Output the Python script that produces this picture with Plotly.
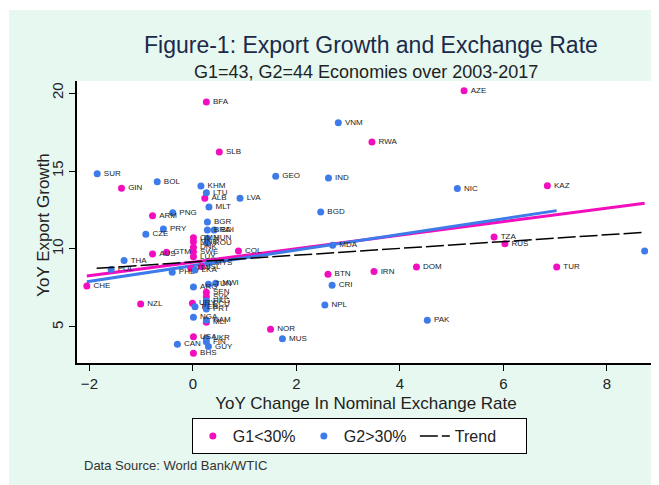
import plotly.graph_objects as go

# ---------------- data ----------------
g1_codes = ["BFA", "SLB", "GIN", "ALB", "ARM", "AZE", "RWA", "KAZ", "TZA", "RUS",
            "TUR", "DOM", "IRN", "BTN", "NOR", "CHE", "NZL", "AUS", "GTM", "COL",
            "OMN", "MNE", "DNK", "SWE", "LUX", "ISL", "ITA", "SEN", "SVK", "URY",
            "MLI", "USA", "BHS"]
g1_x = [0.26, 0.51, -1.38, 0.23, -0.78, 5.24, 3.46, 6.85, 5.82, 6.03,
        7.03, 4.32, 3.50, 2.61, 1.50, -2.05, -1.01, -0.78, -0.51, 0.88,
        0.01, 0.01, 0.01, 0.01, 0.01, 0.17, -0.04, 0.26, 0.26, -0.01,
        0.26, 0.01, 0.01]
g1_y = [19.42, 16.22, 13.89, 13.25, 12.13, 20.15, 16.86, 14.06, 10.77, 10.34,
        8.85, 8.85, 8.55, 8.38, 4.85, 7.63, 6.47, 9.68, 9.79, 9.87,
        10.72, 10.47, 10.11, 9.83, 9.51, 8.87, 8.76, 7.22, 6.94, 6.52,
        5.30, 4.38, 3.31]

g2_codes = ["SUR", "BOL", "KHM", "LTU", "LVA", "MLT", "PNG", "BGR", "BDI", "BRA",
            "PRY", "CZE", "THA", "POL", "PHL", "LKA", "MYS", "HUN", "ROU", "ARG",
            "TUN", "MWI", "HKG", "PER", "ECU", "PRT", "NGA", "NAM", "UKR", "FIN",
            "GUY", "CAN", "GEO", "VNM", "IND", "BGD", "NIC", "MDA", "CRI", "NPL",
            "MUS", "PAK", "MOZ"]
g2_x = [-1.85, -0.69, 0.155, 0.26, 0.91, 0.31, -0.39, 0.28, 0.41, 0.28,
        -0.57, -0.91, -1.33, -1.58, -0.40, 0.04, 0.30, 0.28, 0.28, 0.01,
        0.30, 0.44, 0.26, 0.04, 0.26, 0.26, 0.01, 0.26, 0.26, 0.26,
        0.30, -0.30, 1.60, 2.81, 2.62, 2.47, 5.11, 2.70, 2.69, 2.55,
        1.73, 4.53, 8.73]
g2_y = [14.83, 14.31, 14.04, 13.61, 13.25, 12.69, 12.33, 11.73, 11.22, 11.22,
        11.28, 10.94, 9.26, 8.69, 8.51, 8.65, 9.08, 10.69, 10.38, 7.56,
        7.74, 7.80, 6.67, 6.30, 6.46, 6.15, 5.62, 5.45, 4.28, 4.06,
        3.74, 3.89, 14.66, 18.10, 14.55, 12.37, 13.87, 10.24, 7.67, 6.41,
        4.25, 5.43, 9.87]

# fitted lines (end points)
fit_g1_x = [-2.05, 8.73]
fit_g1_y = [8.27, 12.93]
fit_g2_x = [-2.05, 7.03]
fit_g2_y = [7.90, 12.46]
trend_x = [-1.86, 8.73]
trend_y = [8.76, 11.07]

x_ticks = [-2, 0, 2, 4, 6, 8]
y_ticks = [5, 10, 15, 20]

title_text = "Figure-1: Export Growth and Exchange Rate"
subtitle_text = "G1=43, G2=44 Economies over 2003-2017"
source_text = "Data Source: World Bank/WTIC"
x_title = "YoY Change In Nominal Exchange Rate"
y_title = "YoY Export Growth"

# ---------------- styling ----------------
PINK = "#F20DBE"
BLUE = "#3E7BEA"
MINT = "#E6F8F0"
FONT = "Liberation Sans, Arial, sans-serif"

fig = go.Figure()

# fit lines (no legend)
fig.add_trace(go.Scatter(x=fit_g1_x, y=fit_g1_y, mode="lines",
                         line=dict(color=PINK, width=3), showlegend=False, hoverinfo="skip"))
fig.add_trace(go.Scatter(x=fit_g2_x, y=fit_g2_y, mode="lines",
                         line=dict(color=BLUE, width=3), showlegend=False, hoverinfo="skip"))

# points
fig.add_trace(go.Scatter(x=g1_x, y=g1_y, mode="markers", name="G1<30%",
                         marker=dict(color=PINK, size=7), legendrank=1))
fig.add_trace(go.Scatter(x=g2_x, y=g2_y, mode="markers", name="G2>30%",
                         marker=dict(color=BLUE, size=7), legendrank=2))

# labels (invisible markers give the text its offset from the dots)
fig.add_trace(go.Scatter(x=g1_x, y=g1_y, mode="markers+text", text=g1_codes,
                         textposition="middle right", cliponaxis=False,
                         marker=dict(size=9, color="rgba(0,0,0,0)"),
                         textfont=dict(size=8, color="#222222", family=FONT),
                         showlegend=False, hoverinfo="skip"))
fig.add_trace(go.Scatter(x=g2_x, y=g2_y, mode="markers+text", text=g2_codes,
                         textposition="middle right", cliponaxis=False,
                         marker=dict(size=9, color="rgba(0,0,0,0)"),
                         textfont=dict(size=8, color="#222222", family=FONT),
                         showlegend=False, hoverinfo="skip"))

# trend
fig.add_trace(go.Scatter(x=trend_x, y=trend_y, mode="lines", name="Trend",
                         line=dict(color="black", width=1.5, dash="18px,4px"),
                         legendrank=3))

# background panels (mint frame with white plot area)
shapes = [
    dict(type="rect", xref="paper", yref="paper", x0=-0.1176, x1=1.03, y0=-0.455, y1=1.252,
         fillcolor=MINT, line=dict(width=0), layer="below"),
    dict(type="rect", xref="paper", yref="paper", x0=0, x1=1, y0=0, y1=1,
         fillcolor="white", line=dict(width=0), layer="below"),
]

annotations = [
    dict(text=title_text, xref="paper", yref="paper", x=0.508, y=1.128,
         showarrow=False, xanchor="center", yanchor="middle",
         font=dict(size=23, color="#1B2A4A", family=FONT)),
    dict(text=subtitle_text, xref="paper", yref="paper", x=0.5, y=1.032,
         showarrow=False, xanchor="center", yanchor="middle",
         font=dict(size=18, color="#222222", family=FONT)),
    dict(text=source_text, xref="paper", yref="paper", x=0.0087, y=-0.365,
         showarrow=False, xanchor="left", yanchor="middle",
         font=dict(size=13, color="#333333", family=FONT)),
    dict(text=y_title, xref="paper", yref="paper", x=-0.0571, y=0.49,
         showarrow=False, xanchor="center", yanchor="middle", textangle=-90,
         font=dict(size=17, color="#222222", family=FONT)),
]

# the page places the figure 8px in from the top-left corner; margins compensate
fig.update_layout(
    width=659, height=485,
    margin=dict(l=69, r=12, t=73, b=130, pad=0, autoexpand=False),
    paper_bgcolor="white", plot_bgcolor="white",
    font=dict(family=FONT, color="#222222"),
    shapes=shapes, annotations=annotations,
    legend=dict(orientation="h", x=0.1987, y=-0.195, xanchor="left", yanchor="top",
                bgcolor="white", bordercolor="black", borderwidth=1,
                font=dict(size=16, color="#222222", family=FONT),
                entrywidth=66, entrywidthmode="pixels", traceorder="normal",
                itemwidth=30),
    xaxis=dict(range=[-2.24, 8.93], tickvals=x_ticks, showgrid=False, zeroline=False,
               automargin=False,
               showline=True, linecolor="black", linewidth=1.5,
               ticks="outside", ticklen=6, tickcolor="black",
               tickfont=dict(size=15, color="#222222"),
               title=dict(text=x_title, standoff=6,
                          font=dict(size=17, color="#222222"))),
    yaxis=dict(range=[2.69, 20.77], tickvals=y_ticks, showgrid=False, zeroline=False,
               automargin=False,
               showline=True, linecolor="black", linewidth=1.5,
               ticks="outside", ticklen=6, tickcolor="black", tickangle=-90,
               tickfont=dict(size=15, color="#222222")),
)

fig.write_html("out.html")
